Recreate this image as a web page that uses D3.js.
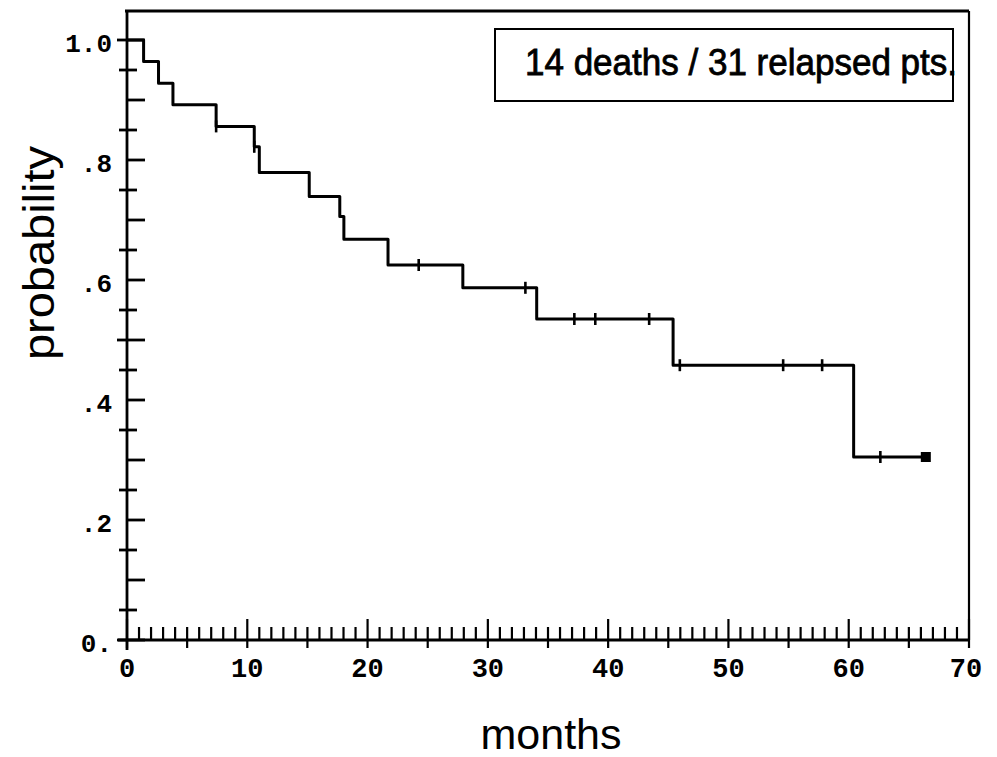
<!DOCTYPE html>
<html>
<head>
<meta charset="utf-8">
<script src="https://cdn.jsdelivr.net/npm/d3@7"></script>
<style>
  html, body { margin: 0; padding: 0; background: #fff; }
  svg { display: block; }
</style>
</head>
<body>
<svg id="chart" width="997" height="757"></svg>
<script>
// ---- data ----
const eventMonths = [0, 1.38, 2.62, 3.82, 7.41, 10.58, 11.0, 15.15, 17.69, 18.03, 21.7, 27.92, 34.06, 45.4, 60.41];
const survival    = [1.0, 0.964, 0.928, 0.892, 0.856, 0.822, 0.779, 0.739, 0.706, 0.668, 0.625, 0.587, 0.535, 0.458, 0.305];
const lastFollowUp = 66.41;
const censorMonths = [7.41, 10.58, 24.25, 33.12, 37.19, 38.93, 43.41, 45.96, 54.55, 57.79, 62.63];
const yTickLabels = ["0.", ".2", ".4", ".6", ".8", "1.0"];
const yTickValues = [0, 0.2, 0.4, 0.6, 0.8, 1.0];
const xTickValues = [0, 10, 20, 30, 40, 50, 60, 70];
const legendText = "14 deaths / 31 relapsed pts.";

// ---- layout ----
const svg = d3.select("#chart");
const x = d3.scaleLinear().domain([0, 70]).range([127, 969]);
const y = d3.scaleLinear().domain([0, 1]).range([640, 40]);
const frameTop = 11;
const ink = "#000";
const monoFont = "'Liberation Mono', 'DejaVu Sans Mono', monospace";
const sansFont = "'Liberation Sans', Arial, sans-serif";

// frame: top and right
svg.append("line").attr("x1", x(0) - 2).attr("x2", x(70)).attr("y1", frameTop).attr("y2", frameTop)
  .attr("stroke", ink).attr("stroke-width", 2.8);
svg.append("line").attr("x1", x(70)).attr("x2", x(70)).attr("y1", frameTop).attr("y2", y(0))
  .attr("stroke", ink).attr("stroke-width", 2.2);

// y axis line
svg.append("line").attr("x1", x(0)).attr("x2", x(0)).attr("y1", frameTop).attr("y2", y(0) + 10)
  .attr("stroke", ink).attr("stroke-width", 2.8);
// x axis line
svg.append("line").attr("x1", x(0) - 9).attr("x2", x(70)).attr("y1", y(0)).attr("y2", y(0))
  .attr("stroke", ink).attr("stroke-width", 2.8);

// y ticks every 0.05
const yMinor = d3.range(0, 21).map(i => i * 0.05);
svg.append("g").selectAll("line").data(yMinor).join("line")
  .attr("x1", (d, i) => (i % 10 === 0) ? x(0) - 10 : (i % 2 === 0 ? x(0) : x(0) - 8))
  .attr("x2", (d, i) => (i % 2 === 0) ? x(0) + 18 : x(0) + 10)
  .attr("y1", d => y(d)).attr("y2", d => y(d))
  .attr("stroke", ink).attr("stroke-width", 2.8);

// y tick labels
svg.append("g").selectAll("text").data(yTickValues).join("text")
  .attr("x", x(0) - 15).attr("y", d => y(d) + 12)
  .attr("text-anchor", "end")
  .attr("font-family", monoFont).attr("font-size", 26).attr("font-weight", "bold")
  .attr("fill", ink)
  .text((d, i) => yTickLabels[i]);

// x ticks every month
const xMinor = d3.range(0, 71);
svg.append("g").selectAll("line").data(xMinor).join("line")
  .attr("x1", d => x(d)).attr("x2", d => x(d))
  .attr("y1", d => d % 10 === 0 ? y(0) - 21 : y(0) - 13)
  .attr("y2", d => d % 5 === 0 ? y(0) + 8 : y(0))
  .attr("stroke", ink).attr("stroke-width", 2.2);

// x tick labels
svg.append("g").selectAll("text").data(xTickValues).join("text")
  .attr("x", d => x(d) - (d === 70 ? 3 : 0)).attr("y", 677)
  .attr("text-anchor", "middle")
  .attr("font-family", monoFont).attr("font-size", 27).attr("font-weight", "bold")
  .attr("fill", ink)
  .text(d => d);

// ---- Kaplan-Meier step curve ----
const stepPts = eventMonths.map((m, i) => [m, survival[i]]);
stepPts.push([lastFollowUp, survival[survival.length - 1]]);
const line = d3.line().x(d => x(d[0])).y(d => y(d[1])).curve(d3.curveStepAfter);
svg.append("path").datum(stepPts)
  .attr("d", line)
  .attr("fill", "none").attr("stroke", ink).attr("stroke-width", 3)
  .attr("stroke-linejoin", "round");

// censor marks
function survAt(m) {
  let s = survival[0];
  for (let i = 0; i < eventMonths.length; i++) if (eventMonths[i] <= m) s = survival[i];
  return s;
}
svg.append("g").selectAll("line").data(censorMonths).join("line")
  .attr("x1", d => x(d)).attr("x2", d => x(d))
  .attr("y1", d => y(survAt(d)) - 6).attr("y2", d => y(survAt(d)) + 6)
  .attr("stroke", ink).attr("stroke-width", 2.6);

// end square
svg.append("rect")
  .attr("x", x(lastFollowUp) - 5).attr("y", y(survival[survival.length - 1]) - 5)
  .attr("width", 10).attr("height", 10).attr("fill", ink);

// ---- legend box ----
svg.append("rect").attr("x", 495).attr("y", 29).attr("width", 458).attr("height", 72)
  .attr("fill", "none").attr("stroke", ink).attr("stroke-width", 2);
svg.append("text").attr("x", 525).attr("y", 75)
  .attr("font-family", sansFont).attr("font-size", 36)
  .attr("textLength", 432).attr("lengthAdjust", "spacingAndGlyphs")
  .attr("fill", ink).attr("stroke", ink).attr("stroke-width", 0.8)
  .text(legendText);

// ---- axis titles ----
svg.append("text")
  .attr("transform", "translate(54,253) rotate(-90)")
  .attr("text-anchor", "middle")
  .attr("font-family", sansFont).attr("font-size", 44)
  .attr("textLength", 214).attr("lengthAdjust", "spacingAndGlyphs")
  .attr("fill", ink)
  .text("probability");
svg.append("text")
  .attr("x", 551).attr("y", 749)
  .attr("text-anchor", "middle")
  .attr("font-family", sansFont).attr("font-size", 43)
  .attr("fill", ink)
  .text("months");
</script>
</body>
</html>
